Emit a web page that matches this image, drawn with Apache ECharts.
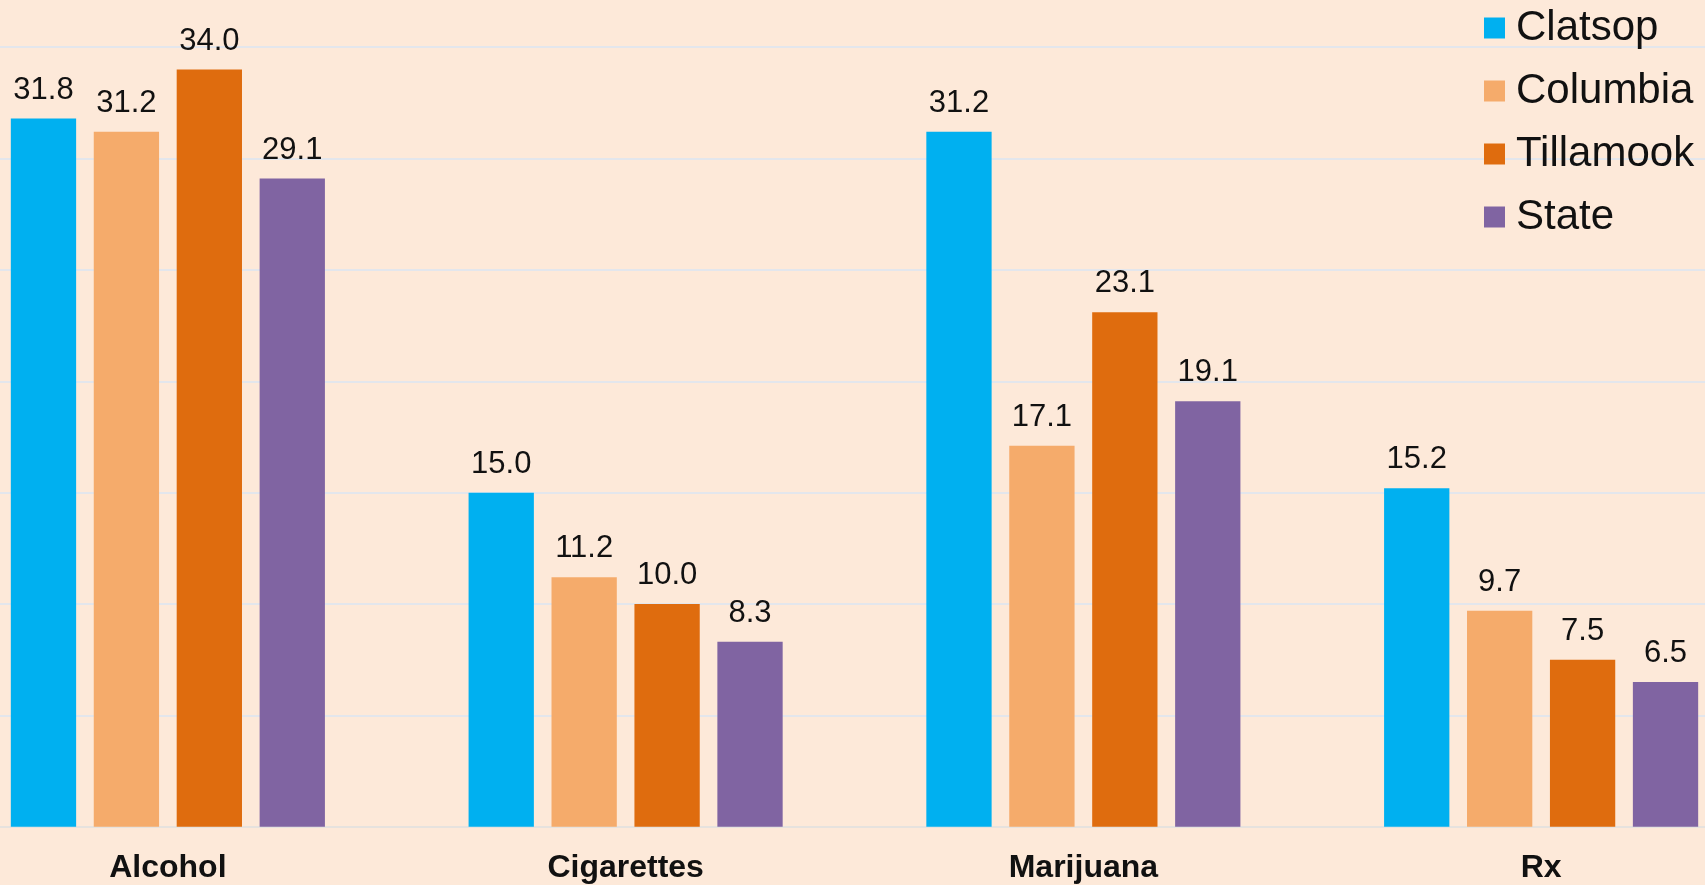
<!DOCTYPE html>
<html>
<head>
<meta charset="utf-8">
<script src="https://cdn.jsdelivr.net/npm/echarts@6/dist/echarts.min.js"></script>
<style>
html,body{margin:0;padding:0;background:#FDE9D9;overflow:hidden;}
#wrap{position:relative;width:1705px;height:885px;overflow:hidden;}
#chart{position:absolute;left:-61px;top:0;width:1831px;height:885px;}
</style>
</head>
<body>
<div id="wrap"><div id="chart"></div></div>
<script>
const categories = ['Alcohol', 'Cigarettes', 'Marijuana', 'Rx'];
const seriesNames = ['Clatsop', 'Columbia', 'Tillamook', 'State'];
const clatsop = [31.8, 15.0, 31.2, 15.2];
const columbia = [31.2, 11.2, 17.1, 9.7];
const tillamook = [34.0, 10.0, 23.1, 7.5];
const state = [29.1, 8.3, 19.1, 6.5];
const colors = ['#00B0F0', '#F5AB6B', '#DF6C0E', '#8064A2'];
const allValues = [clatsop, columbia, tillamook, state];

const chart = echarts.init(document.getElementById('chart'));
const font = 'Liberation Sans, Arial, sans-serif';
chart.setOption({
  backgroundColor: '#FDE9D9',
  animation: false,
  textStyle: { fontFamily: font },
  legend: {
    orient: 'vertical',
    left: 1484 + 61,
    top: 7,
    padding: 0,
    itemWidth: 21,
    itemHeight: 21,
    itemGap: 21,
    icon: 'rect',
    textStyle: { fontSize: 42, color: '#111', fontFamily: font, padding: [0, 0, 0, 6] },
    data: seriesNames
  },
  grid: { left: 0, right: 0, top: 0, bottom: 58.3, containLabel: false },
  xAxis: {
    type: 'category',
    data: categories,
    axisLine: { show: true, lineStyle: { color: '#E6E2DE', width: 2 } },
    axisTick: { show: false },
    axisLabel: { fontSize: 32, fontWeight: 'bold', color: '#111', margin: 25, fontFamily: font }
  },
  yAxis: {
    type: 'value',
    min: 0,
    max: 37.12,
    interval: 5,
    axisLine: { show: false },
    axisTick: { show: false },
    axisLabel: { show: false },
    splitLine: { showMaxLine: false, lineStyle: { color: '#E3E6EC', width: 2 } }
  },
  series: seriesNames.map((name, i) => ({
    name: name,
    type: 'bar',
    data: allValues[i],
    barWidth: 65.3,
    barGap: '27%',
    itemStyle: { color: colors[i] },
    label: {
      show: true,
      position: 'top',
      distance: 13,
      fontSize: 31,
      color: '#111',
      fontFamily: font,
      formatter: p => p.value.toFixed(1)
    }
  }))
});
</script>
</body>
</html>
